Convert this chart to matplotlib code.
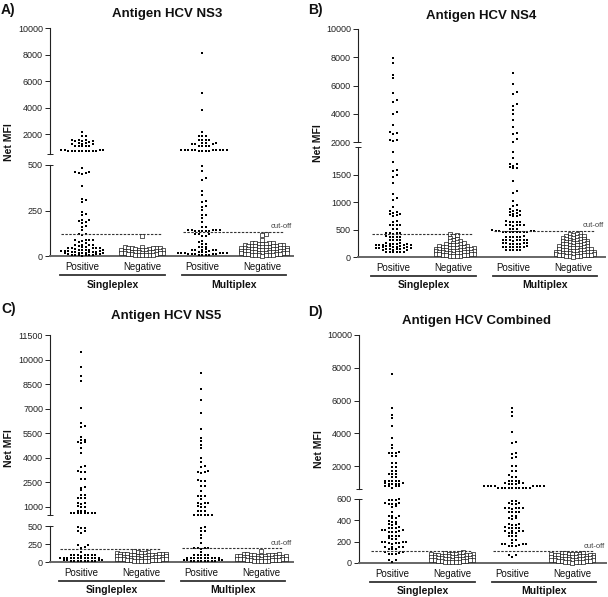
import numpy as np
import matplotlib
matplotlib.use("Agg")
import matplotlib.pyplot as plt
from matplotlib import transforms

plt.rcParams['font.family'] = ['Liberation Sans', 'DejaVu Sans']

# ---------------- DATA (Net MFI values) ----------------
categories = ["Positive", "Negative", "Positive", "Negative"]
groups = ["Singleplex", "Multiplex"]
titles = ["Antigen HCV NS3", "Antigen HCV NS4", "Antigen HCV NS5", "Antigen HCV Combined"]
panel_letters = ["A)", "B)", "C)", "D)"]

ns3_single_pos = [2180, 1860, 1830, 1560, 1540, 1520, 1500, 1480, 1450, 1430, 1330, 1310, 1290,
                  1270, 1250, 1130, 1120, 1110, 1100, 1090, 800, 790, 780, 770, 760, 760, 750,
                  750, 740, 740, 730, 720, 710,
                  485, 463, 460, 458, 455, 450, 386, 313, 305, 298, 243, 230, 225, 200, 198,
                  195, 188, 183, 163, 160, 143, 122, 120, 118, 90, 88, 87, 86, 85, 76, 74, 62,
                  60, 59, 58, 57, 48, 47, 46, 45, 44, 43, 42, 36, 35, 34, 33, 32, 31, 30, 29,
                  28, 27, 24, 23, 22, 21, 20, 19, 18, 17, 16, 14, 12, 10, 9, 8, 7, 6, 5, 4, 3, 2]
ns3_single_neg = [110, 48, 47, 46, 45, 44, 43, 42, 41, 36, 35, 34, 33, 32, 31, 30, 29, 28, 27,
                  24, 23, 22, 21, 20, 19, 18, 17, 16, 15, 14, 13, 10, 9, 8, 7, 6, 5, 4, 3]
ns3_multi_pos = [8090, 5080, 3820, 2180, 1880, 1860, 1840, 1560, 1550, 1540, 1530, 1320, 1310,
                 1300, 1290, 1280, 1270, 1140, 1130, 1120, 1110, 820, 810, 800, 795, 790, 785,
                 780, 775, 770, 765, 760, 755, 750, 745,
                 496, 468, 430, 417, 358, 335, 300, 296, 272, 270, 253, 226, 224, 207, 188, 162,
                 160, 145, 144, 143, 142, 141, 140, 139, 138, 137, 136, 121, 120, 119, 111,
                 110, 80, 78, 67, 65, 52, 50, 49, 36, 35, 34, 33, 32, 31, 30, 22, 21, 20, 19,
                 18, 17, 16, 15, 14, 13, 12, 11, 10, 9, 8, 7, 6, 5]
ns3_multi_neg = [119, 117, 88, 72, 71, 70, 69, 68, 67, 66, 60, 59, 58, 57, 56, 55, 54, 53,
                 52, 51, 48, 47, 46, 45, 44, 43, 42, 41, 40, 39, 38, 36, 35, 34, 33, 32,
                 31, 30, 29, 28, 27, 26, 24, 23, 22, 21, 20, 19, 18, 17, 16, 15, 14, 12, 11,
                 10, 9, 8, 7, 6, 5, 4, 3, 2]

ns4_single_pos = [7930, 7570, 6740, 6510, 5450, 4970, 4810, 4100, 3960, 3200, 2720, 2650, 2600,
                  2140, 2120, 2100,
                  1916, 1733, 1580, 1561, 1488, 1451, 1349, 1147, 1074, 1040, 902, 829, 815,
                  800, 790, 775, 760, 750, 646, 640, 590, 586, 580, 575, 512, 505, 440, 435,
                  432, 430, 425, 375, 372, 368, 365, 360, 315, 312, 308, 305, 250, 246, 242,
                  238, 234, 230, 226, 222, 218, 214, 210, 200, 196, 192, 188, 184, 180, 176,
                  172, 168, 164, 160, 150, 146, 142, 138, 134, 130, 126, 100, 97, 94, 91, 88, 85]
ns4_single_neg = [410, 395, 380, 340, 320, 310, 300, 285, 270, 260, 250, 240, 235, 225, 215,
                  210, 200, 195, 190, 185, 180, 175, 170, 165, 160, 158, 150, 146, 142, 138,
                  134, 130, 126, 122, 118, 114, 110, 106, 102, 98, 94, 90, 86, 82, 78, 74, 70,
                  66, 62, 58, 54, 50, 46, 42, 38, 34, 30, 26, 22, 18, 14]
ns4_multi_pos = [6864, 6085, 5519, 5400, 4690, 4570, 4265, 3960, 3557, 3085, 2616, 2540, 2190,
                 2020,
                 1916, 1793, 1700, 1684, 1660, 1640, 1623, 1610, 1378, 1208, 1170, 1012, 950,
                 920, 880, 860, 840, 830, 820, 800, 790, 770, 760, 750, 740, 650, 645, 640,
                 635, 630, 590, 586, 582, 578, 575, 570, 515, 510, 505, 500, 470, 468, 466,
                 464, 463, 462, 461, 460, 459, 458, 457, 456, 375, 372, 370, 368, 365, 362,
                 315, 312, 310, 308, 306, 304, 302, 300, 252, 250, 248, 246, 244, 242, 240,
                 238, 192, 190, 188, 186, 184, 182, 180, 178, 130, 128, 126, 124, 122]
ns4_multi_neg = [445, 425, 412, 400, 390, 383, 375, 366, 358, 350, 342, 336, 328, 322, 314, 308,
                 300, 294, 288, 282, 276, 270, 264, 258, 252, 246, 240, 234, 228, 222, 216, 210,
                 204, 198, 192, 186, 180, 175, 170, 165, 160, 155, 150, 145, 140, 135, 130, 125,
                 120, 115, 110, 105, 100, 96, 92, 88, 84, 80, 76, 72, 68, 64, 60, 56, 52, 48,
                 44, 40, 36, 32, 28, 24, 20, 16, 12, 8]

ns5_single_pos = [10470, 9525, 8975, 8711, 7040, 6122, 5914, 5880, 5240, 5100, 5080, 4960, 4940,
                  4920, 4590, 4286, 3466, 3440, 3160, 3150, 3140, 2714, 2700, 2183, 2170, 2000,
                  1734, 1720, 1530, 1520, 1510, 1224, 1210, 1200, 1020, 1010, 1000, 775, 770,
                  760, 614, 612, 610, 608, 606, 604, 602, 600,
                  482, 478, 475, 435, 430, 399, 236, 230, 204, 200, 143, 97, 96, 95, 94, 93,
                  92, 91, 90, 60, 59, 58, 57, 56, 55, 54, 53, 52, 51, 50, 49, 24, 23, 22, 21,
                  20, 19, 18, 17, 16, 15, 14, 13]
ns5_single_neg = [150, 140, 135, 130, 125, 120, 118, 115, 112, 110, 108, 105, 102, 100, 98, 95,
                  92, 90, 88, 85, 82, 80, 78, 75, 72, 70, 68, 65, 62, 60, 58, 55, 52, 50, 48,
                  45, 42, 40, 38, 35, 32, 30, 28, 25, 22, 20, 18, 15, 12, 10]
ns5_multi_pos = [9180, 8222, 7506, 6710, 5774, 5204, 5039, 4794, 4590, 3980, 3736, 3466, 3450,
                 3160, 3150, 3140, 3060, 2610, 2600, 2550, 2285, 2270, 1938, 1673, 1660, 1650,
                 1488, 1224, 1215, 1205, 1195, 1020, 1010, 1000, 775, 770, 765, 520, 515, 512,
                 510, 508, 505,
                 482, 478, 435, 430, 375, 329, 259, 192, 190, 189, 188, 186, 143, 97, 96, 95,
                 94, 93, 60, 59, 58, 57, 56, 55, 54, 53, 52, 51, 24, 23, 22, 21, 20, 19, 18,
                 17, 16, 15, 14, 13]
ns5_multi_neg = [150, 112, 110, 107, 104, 101, 98, 95, 92, 90, 88, 85, 82, 80, 78, 75, 72, 70,
                 68, 65, 62, 60, 58, 55, 52, 50, 48, 45, 42, 40, 38, 35, 32, 30, 28, 25, 22, 20,
                 18, 15, 12, 10]

comb_single_pos = [7618, 5560, 5114, 4950, 4443, 3730, 3283, 3120, 2880, 2815, 2800, 2790, 2630,
                   2610, 2200, 2180, 1960, 1940, 1714, 1700, 1510, 1500, 1490, 1348, 1330, 1104,
                   1100, 1095, 1090, 1085, 943, 940, 935, 930, 925, 920, 779, 775, 770, 765, 640,
                   597, 595, 593, 590, 560, 558, 556, 554, 552, 530, 528, 481, 444, 442, 440,
                   420, 418, 390, 388, 386, 363, 361, 359, 334, 332, 330, 328, 310, 308, 306,
                   304, 290, 288, 286, 256, 254, 252, 250, 230, 228, 226, 200, 198, 196, 194,
                   192, 185, 183, 181, 153, 151, 149, 147, 131, 129, 127, 106, 104, 90, 88, 86,
                   84, 28, 26, 12]
comb_single_neg = [106, 92, 90, 88, 86, 84, 82, 80, 78, 76, 74, 72, 70, 68, 66, 64, 62, 60, 58,
                   56, 54, 52, 50, 48, 46, 44, 42, 40, 38, 36, 34, 32, 30, 28, 26, 24, 22, 20,
                   18, 16, 14, 12, 10, 8, 6]
comb_multi_pos = [5560, 5280, 5072, 4058, 3484, 3400, 2773, 2760, 2530, 2510, 2000, 1990, 1714,
                  1700, 1450, 1348, 1330, 1104, 1100, 1096, 1092, 943, 940, 937, 934, 931, 928,
                  800, 798, 796, 794, 792, 790, 788, 786, 675, 673, 671, 669, 667, 665, 663,
                  661, 659, 657,
                  584, 582, 560, 558, 556, 554, 519, 517, 515, 513, 511, 509, 481, 479, 477,
                  475, 444, 442, 420, 418, 416, 363, 361, 359, 357, 334, 332, 330, 328, 326,
                  303, 301, 299, 297, 281, 279, 277, 256, 254, 252, 216, 214, 184, 182, 180,
                  178, 176, 165, 163, 161, 159, 75, 73, 59]
comb_multi_neg = [95, 92, 90, 88, 86, 84, 82, 80, 78, 76, 74, 72, 70, 68, 66, 64, 62, 60, 58,
                  56, 54, 52, 50, 48, 46, 44, 42, 40, 38, 36, 34, 32, 30, 28, 26, 24, 22, 20,
                  18, 16, 14, 12, 10, 8, 6, 4]

cutoff_single = [120, 425, 176, 112]
cutoff_multi = [133, 480, 190, 110]

upper_range = [(500, 10000), (2000, 10000), (500, 11500), (600, 10000)]
lower_range = [(0, 500), (0, 2000), (0, 500), (0, 600)]
upper_ticks = [[2000, 4000, 6000, 8000, 10000],
               [2000, 4000, 6000, 8000, 10000],
               [1000, 2500, 4000, 5500, 7000, 8500, 10000, 11500],
               [2000, 4000, 6000, 8000, 10000]]
lower_ticks = [[0, 250, 500], [0, 500, 1000, 1500], [0, 250, 500], [0, 200, 400, 600]]

panel_data = [
    [ns3_single_pos, ns3_single_neg, ns3_multi_pos, ns3_multi_neg],
    [ns4_single_pos, ns4_single_neg, ns4_multi_pos, ns4_multi_neg],
    [ns5_single_pos, ns5_single_neg, ns5_multi_pos, ns5_multi_neg],
    [comb_single_pos, comb_single_neg, comb_multi_pos, comb_multi_neg],
]

# ---------------- LAYOUT (pixels) ----------------
W, H = 608, 597
layout = [
    dict(l=50, r=293, up=(28, 154), low=(165, 256), c0=82, title=(167, 14), letter=(1, 3), ylab=9,
         grp_line=275, grp_lab=285),
    dict(l=358, r=605, up=(29, 142), low=(147, 257), c0=393, title=(481, 16), letter=(308, 3), ylab=318,
         grp_line=276, grp_lab=285),
    dict(l=50, r=293, up=(335, 515), low=(526, 562), c0=81, title=(166, 316), letter=(1, 302), ylab=9,
         grp_line=581, grp_lab=590),
    dict(l=359, r=606, up=(335, 489), low=(499, 563), c0=392, title=(477, 321), letter=(308, 305), ylab=319,
         grp_line=582, grp_lab=591),
]
PX_PER_CAT = 60.0
DX_MIN = 3.5   # horizontal spacing of markers in the swarm (px)
DY_MIN = 2.6   # vertical distance below which markers are pushed aside (px)

fig = plt.figure(figsize=(W / 100, H / 100), dpi=100)


def fbox(l, t, r, b):
    return [l / W, 1 - b / H, (r - l) / W, (b - t) / H]


def swarm(ypx):
    ypx = np.asarray(ypx, float)
    order = np.argsort(ypx, kind="stable")
    xs = np.zeros(len(ypx))
    px_l, py_l = [], []
    step = DX_MIN / 2
    cands = [0.0]
    for j in range(1, 60):
        cands += [j * step, -j * step]
    for i in order:
        y = ypx[i]
        near = [px for px, py in zip(px_l, py_l) if abs(py - y) < DY_MIN]
        chosen = 0.0
        for c in cands:
            if all(abs(c - px) >= DX_MIN - 1e-6 for px in near):
                chosen = c
                break
        xs[i] = chosen
        px_l.append(chosen)
        py_l.append(y)
    return xs


TICK_COL = "#222222"
for k in range(4):
    L = layout[k]
    ax_up = fig.add_axes(fbox(L['l'], L['up'][0], L['r'], L['up'][1]))
    ax_lo = fig.add_axes(fbox(L['l'], L['low'][0], L['r'], L['low'][1]))
    width_px = L['r'] - L['l']
    x0 = -(L['c0'] - L['l']) / PX_PER_CAT
    xlim = (x0, x0 + width_px / PX_PER_CAT)
    for ax in (ax_up, ax_lo):
        ax.set_xlim(*xlim)
        ax.patch.set_alpha(0)
        ax.spines['top'].set_visible(False)
        ax.spines['right'].set_visible(False)
        ax.spines['left'].set_linewidth(0.8)
        ax.spines['left'].set_color(TICK_COL)
        ax.tick_params(axis='y', length=3.5, width=0.7, labelsize=6.5, pad=1.5,
                       color=TICK_COL, labelcolor=TICK_COL)
    ax_up.spines['bottom'].set_visible(False)
    ax_up.set_xticks([])
    ax_up.set_ylim(*upper_range[k])
    ax_lo.set_ylim(*lower_range[k])
    ax_up.set_yticks(upper_ticks[k])
    ax_lo.set_yticks(lower_ticks[k])
    ax_up.set_yticks([upper_range[k][0]], minor=True)
    ax_lo.set_yticks([lower_range[k][1]], minor=True)
    for ax in (ax_up, ax_lo):
        ax.yaxis.remove_overlapping_locs = False
        ax.tick_params(axis='y', which='minor', direction='inout', length=5, width=0.7, color=TICK_COL)
    ax_lo.spines['bottom'].set_color('#666666')
    ax_lo.spines['bottom'].set_linewidth(1.4)
    ax_lo.set_xticks(range(4))
    ax_lo.set_xticklabels(categories, fontsize=7, color='#111111')
    ax_lo.tick_params(axis='x', length=0, pad=4.5)

    split = upper_range[k][0]
    for g, vals in enumerate(panel_data[k]):
        vals = np.asarray(vals, float)
        ypx = np.array([(ax_up if v >= split else ax_lo).transData.transform((0, v))[1] for v in vals])
        xs = g + swarm(ypx) / PX_PER_CAT
        up = vals >= split
        neg = (g % 2 == 1)
        kw = dict(marker='s', clip_on=False, zorder=3)
        if neg:
            kw.update(s=6.0, facecolors='white', edgecolors='black', linewidths=0.45)
        else:
            kw.update(s=4.6, c='black', linewidths=0)
        if up.any():
            ax_up.scatter(xs[up], vals[up], **kw)
        if (~up).any():
            ax_lo.scatter(xs[~up], vals[~up], **kw)

    ax_lo.plot([-0.35, 1.34], [cutoff_single[k]] * 2, ls=(0, (2.2, 1.3)), color='#333333', lw=0.8, zorder=4)
    ax_lo.plot([1.68, 3.37], [cutoff_multi[k]] * 2, ls=(0, (2.2, 1.3)), color='#333333', lw=0.8, zorder=4)
    ax_lo.annotate('cut-off', xy=(xlim[1] - 0.02, cutoff_multi[k]), xytext=(0, 1.2),
                   textcoords='offset points', ha='right', va='bottom', fontsize=5.5,
                   color='#444444', annotation_clip=False)

    tr = transforms.blended_transform_factory(ax_lo.transData, fig.transFigure)
    for (a, b), name in zip([(-0.36, 1.38), (1.66, 3.40)], groups):
        yl = 1 - L['grp_line'] / H
        ax_lo.plot([a, b], [yl, yl], transform=tr, color='#333333', lw=1.3, clip_on=False)
        ax_lo.text((a + b) / 2, 1 - L['grp_lab'] / H, name, transform=tr, ha='center', va='center',
                   fontsize=7.5, fontweight='bold', color='#111111')

    fig.text(L['title'][0] / W, 1 - L['title'][1] / H, titles[k], ha='center', va='center',
             fontsize=9.5, fontweight='bold', color='#111111')
    fig.text(L['letter'][0] / W, 1 - L['letter'][1] / H, panel_letters[k], ha='left', va='top',
             fontsize=10, fontweight='bold', color='#111111')
    yc = (L['up'][0] + L['low'][1]) / 2
    fig.text(L['ylab'] / W, 1 - yc / H, 'Net MFI', rotation=90, ha='center', va='center',
             fontsize=7.5, fontweight='bold', color='#111111')

fig.savefig('out.png', dpi=100)
